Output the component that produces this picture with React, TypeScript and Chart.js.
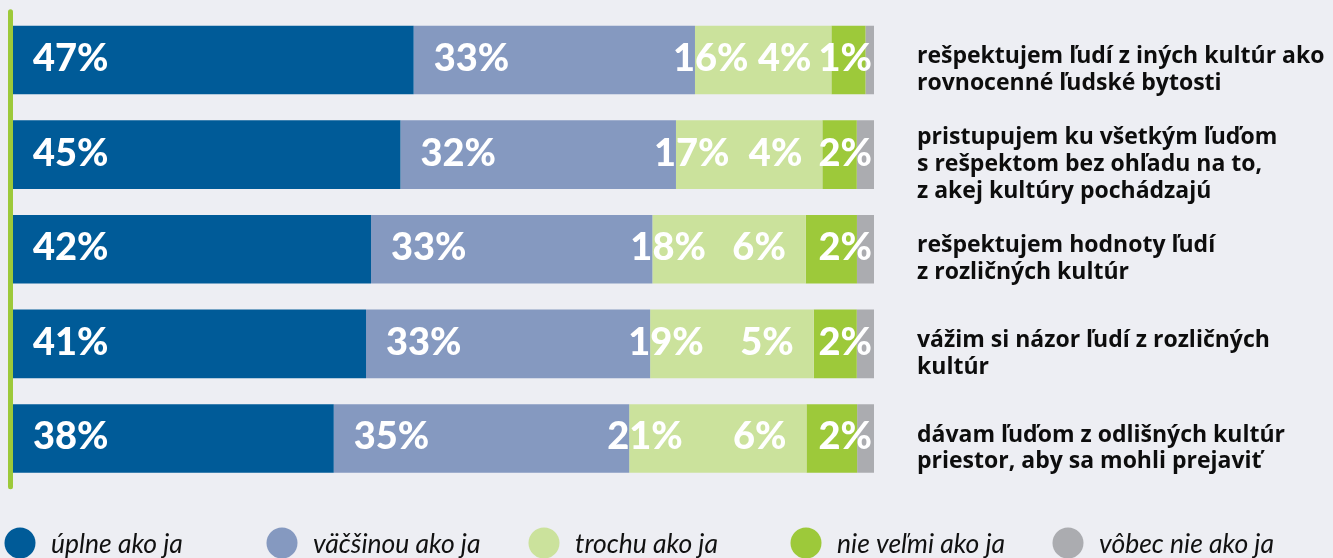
import React, { useEffect, useRef } from 'react';
import { Chart, registerables } from 'chart.js';

Chart.register(...registerables);

const categories: string[][] = [
  ['rešpektujem ľudí z iných kultúr ako', 'rovnocenné ľudské bytosti'],
  ['pristupujem ku všetkým ľuďom', 's rešpektom bez ohľadu na to,', 'z akej kultúry pochádzajú'],
  ['rešpektujem hodnoty ľudí', 'z rozličných kultúr'],
  ['vážim si názor ľudí z rozličných', 'kultúr'],
  ['dávam ľuďom z odlišných kultúr', 'priestor, aby sa mohli prejaviť'],
];

const seriesNames = ['úplne ako ja', 'väčšinou ako ja', 'trochu ako ja', 'nie veľmi ako ja', 'vôbec nie ako ja'];

const uplne = [47, 45, 42, 41, 38];
const vacsinou = [33, 32, 33, 33, 35];
const trochu = [16, 17, 18, 19, 21];
const nieVelmi = [4, 4, 6, 5, 6];
const vobecNie = [1, 2, 2, 2, 2];

const seriesColors = ['#005b98', '#8599c0', '#cbe29c', '#9dc93a', '#abacb0'];

const allSeries = [uplne, vacsinou, trochu, nieVelmi, vobecNie];
const rowTotals = categories.map((_, i) => allSeries.reduce((s, arr) => s + arr[i], 0));

const valueLabels = {
  id: 'valueLabels',
  afterDatasetsDraw(chart: any) {
    const ctx = chart.ctx;
    ctx.save();
    ctx.font = '900 38px Lato';
    ctx.fillStyle = '#ffffff';
    ctx.textBaseline = 'alphabetic';
    chart.data.datasets.forEach((ds: any, di: number) => {
      const meta = chart.getDatasetMeta(di);
      meta.data.forEach((bar: any, i: number) => {
        const p = bar.getProps(['x', 'base', 'y'], true);
        const text = ds.raw[i] + '%';
        let tx = 0;
        let align: CanvasTextAlign = 'left';
        if (di <= 1) { align = 'left'; tx = p.base + 20; }
        else if (di === 2) { align = 'left'; tx = p.base - 22; }
        else if (di === 3) { align = 'right'; tx = p.base - 20; }
        else { align = 'right'; tx = p.x - 2; }
        ctx.textAlign = align;
        ctx.fillText(text, tx, p.y + 11);
      });
    });
    ctx.restore();
  },
};

const leftLine = {
  id: 'leftLine',
  beforeDatasetsDraw(chart: any) {
    const { ctx, chartArea } = chart;
    ctx.save();
    ctx.strokeStyle = '#9dc93a';
    ctx.lineWidth = 5;
    ctx.lineCap = 'round';
    ctx.beginPath();
    ctx.moveTo(chartArea.left - 2.5, chartArea.top - 1);
    ctx.lineTo(chartArea.left - 2.5, chartArea.bottom + 1);
    ctx.stroke();
    ctx.restore();
  },
};

const bottomLegend = {
  id: 'bottomLegend',
  afterDraw(chart: any) {
    const ctx = chart.ctx;
    ctx.save();
    chart.data.datasets.forEach((ds: any, i: number) => {
      const cx = 20 + i * 262;
      const cy = 543;
      ctx.fillStyle = ds.backgroundColor;
      ctx.beginPath();
      ctx.arc(cx, cy, 15.5, 0, Math.PI * 2);
      ctx.fill();
      ctx.fillStyle = '#111111';
      ctx.font = 'italic 26.5px Lato';
      ctx.textAlign = 'left';
      ctx.textBaseline = 'alphabetic';
      ctx.fillText(ds.label, cx + 31, 553);
    });
    ctx.restore();
  },
};

export default function App() {
  const ref = useRef<HTMLCanvasElement>(null);

  useEffect(() => {
    if (!ref.current) return;
    const datasets = allSeries.map((arr, di) => ({
      label: seriesNames[di],
      data: arr.map((v, i) => (v / rowTotals[i]) * 100),
      raw: arr,
      backgroundColor: seriesColors[di],
      borderWidth: 0,
      categoryPercentage: 1,
      barPercentage: 0.725,
    }));
    const chart = new Chart(ref.current, {
      type: 'bar',
      data: { labels: categories, datasets: datasets as any },
      options: {
        indexAxis: 'y',
        animation: false,
        responsive: false,
        layout: { padding: { left: 13, right: 0, top: 12.7, bottom: 72.2 } },
        plugins: { legend: { display: false }, tooltip: { enabled: false } },
        scales: {
          x: { stacked: true, min: 0, max: 100, display: false },
          y: {
            stacked: true,
            position: 'right',
            grid: { display: false, drawTicks: false },
            border: { display: false },
            ticks: {
              autoSkip: false,
              padding: 43,
              labelOffset: 10,
              color: '#0d0d0d',
              font: { family: '"Open Sans"', weight: 'bold', size: 23, lineHeight: 1.16 },
            },
            afterFit: (scale: any) => {
              scale.width = 1333 - 874;
              scale.paddingTop = 0;
              scale.paddingBottom = 0;
            },
          },
        },
      },
      plugins: [leftLine, valueLabels, bottomLegend],
    });
    return () => chart.destroy();
  }, []);

  return (
    <div style={{ position: 'fixed', left: 0, top: 0, width: 1333, height: 558, background: '#edeef3' }}>
      <canvas ref={ref} width={1333} height={558} style={{ display: 'block' }} />
    </div>
  );
}
